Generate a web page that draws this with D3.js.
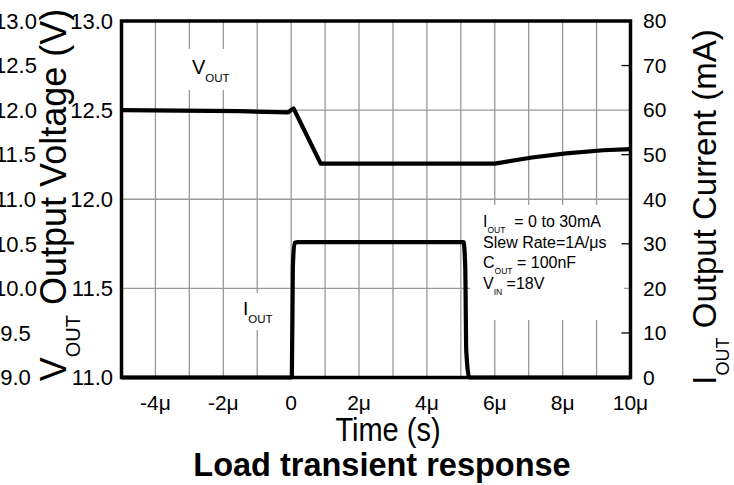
<!DOCTYPE html>
<html>
<head>
<meta charset="utf-8">
<script src="https://cdn.jsdelivr.net/npm/d3@7"></script>
<style>
  body { margin: 0; background: #fff; }
  text { font-family: 'Liberation Sans', Arial, sans-serif; fill: #000; }
</style>
</head>
<body>
<script>
// time axis in microseconds
let xTicks = [-4, -2, 0, 2, 4, 6, 8, 10]
let xTickLabels = ['-4\u03bc', '-2\u03bc', '0', '2\u03bc', '4\u03bc', '6\u03bc', '8\u03bc', '10\u03bc']
let vTicks = [11.0, 11.5, 12.0, 12.5, 13.0]
let vOuterTicks = [9.0, 9.5, 10.0, 10.5, 11.0, 11.5, 12.0, 12.5, 13.0]
let iTicks = [0, 10, 20, 30, 40, 50, 60, 70, 80]

// V_OUT trace (V)
let vTime = [-5, -1.5, -0.1, 0.07, 0.87, 6.0, 7.1, 8.1, 9.2, 10]
let vOut = [12.5, 12.494, 12.487, 12.51, 12.2, 12.2, 12.234, 12.257, 12.275, 12.281]

// I_OUT trace (mA)
let iTime = [-5, 0.02, 0.05, 0.1, 0.2, 5.08, 5.13, 5.16, 5.25, 10]
let iOut = [0, 0, 24.8, 30.2, 30.4, 30.4, 24.8, 6, 0, 0]

let width = 734
let height = 485
let pLeft = 121.5, pRight = 630.5, pTop = 21, pBottom = 377.5

let svg = d3.select('body').append('svg')
  .attr('width', width)
  .attr('height', height)

let x = d3.scaleLinear().domain([-5, 10]).range([pLeft, pRight])
let yV = d3.scaleLinear().domain([11, 13]).range([pBottom, pTop])
let yVouter = d3.scaleLinear().domain([9, 13]).range([pBottom, pTop])
let yI = d3.scaleLinear().domain([0, 80]).range([pBottom, pTop])

// grid
svg.append('g')
  .selectAll('line')
  .data(d3.range(-4, 10))
  .enter()
  .append('line')
  .attr('x1', d => x(d)).attr('x2', d => x(d))
  .attr('y1', pTop).attr('y2', pBottom)
  .attr('stroke', '#999').attr('stroke-width', 1.3)

svg.append('g')
  .selectAll('line')
  .data([11.5, 12.0, 12.5])
  .enter()
  .append('line')
  .attr('x1', pLeft).attr('x2', pRight)
  .attr('y1', d => yV(d)).attr('y2', d => yV(d))
  .attr('stroke', '#999').attr('stroke-width', 1.3)

// white patches behind the labels
svg.append('rect').attr('x', 186).attr('y', 49).attr('width', 44).attr('height', 41).attr('fill', '#fff')
svg.append('rect').attr('x', 240).attr('y', 293).attr('width', 36).attr('height', 37).attr('fill', '#fff')
svg.append('rect').attr('x', 470).attr('y', 205).attr('width', 154).attr('height', 115).attr('fill', '#fff')

// right axis inner ticks
svg.append('g')
  .selectAll('line')
  .data([10, 30, 50, 70])
  .enter()
  .append('line')
  .attr('x1', pRight - 9).attr('x2', pRight)
  .attr('y1', d => yI(d)).attr('y2', d => yI(d))
  .attr('stroke', '#000').attr('stroke-width', 1.3)

// traces
let vLine = d3.line()
  .x((d, i) => x(vTime[i]))
  .y(d => yV(d))
let iLine = d3.line()
  .x((d, i) => x(iTime[i]))
  .y(d => yI(d))
  .curve(d3.curveMonotoneX)

svg.append('path').attr('d', vLine(vOut))
  .attr('fill', 'none').attr('stroke', '#000').attr('stroke-width', 4.2)
  .attr('stroke-linejoin', 'round')
svg.append('path').attr('d', iLine(iOut))
  .attr('fill', 'none').attr('stroke', '#000').attr('stroke-width', 4.2)
  .attr('stroke-linejoin', 'round')

// frame
svg.append('rect')
  .attr('x', pLeft).attr('y', pTop)
  .attr('width', pRight - pLeft).attr('height', pBottom - pTop)
  .attr('fill', 'none').attr('stroke', '#000').attr('stroke-width', 3.5)

// tick labels
svg.append('g')
  .selectAll('text')
  .data(xTicks)
  .enter()
  .append('text')
  .attr('x', d => x(d)).attr('y', 409.5)
  .attr('text-anchor', 'middle').attr('font-size', 21)
  .text((d, i) => xTickLabels[i])

svg.append('g')
  .selectAll('text')
  .data(vTicks)
  .enter()
  .append('text')
  .attr('x', 113).attr('y', d => yV(d)).attr('dy', '0.35em')
  .attr('text-anchor', 'end').attr('font-size', 22)
  .text(d => d.toFixed(1))

svg.append('g')
  .selectAll('text')
  .data(vOuterTicks)
  .enter()
  .append('text')
  .attr('x', 15.5).attr('y', d => yVouter(d)).attr('dy', '0.35em')
  .attr('text-anchor', 'middle').attr('font-size', 22)
  .text(d => d.toFixed(1))

svg.append('g')
  .selectAll('text')
  .data(iTicks)
  .enter()
  .append('text')
  .attr('x', 643).attr('y', d => yI(d)).attr('dy', '0.35em')
  .attr('text-anchor', 'start').attr('font-size', 21)
  .text(d => d)

// text with a subscript
function subText (g, px, py, parts, size, subSize) {
  let t = g.append('text').attr('x', px).attr('y', py).attr('font-size', size)
  parts.forEach(function (p) {
    if (p.sub) {
      t.append('tspan').attr('font-size', subSize).attr('dy', subSize * 0.7).text(p.sub)
    } else {
      t.append('tspan').attr('dy', p.back ? -subSize * 0.7 : 0).text(p.txt)
    }
  })
  return t
}

subText(svg, 192, 74, [{ txt: 'V' }, { sub: 'OUT' }], 20, 11.5)
subText(svg, 243, 315, [{ txt: 'I' }, { sub: 'OUT' }], 19, 11.5)

subText(svg, 483, 227, [{ txt: 'I' }, { sub: 'OUT' }, { txt: '  = 0 to 30mA', back: true }], 16, 8.5)
  .attr('xml:space', 'preserve')
svg.append('text').attr('x', 483).attr('y', 247.5).attr('font-size', 16).text('Slew Rate=1A/\u03bcs')
subText(svg, 483, 268, [{ txt: 'C' }, { sub: 'OUT' }, { txt: ' = 100nF', back: true }], 16, 8.5)
subText(svg, 483, 289, [{ txt: 'V' }, { sub: 'IN' }, { txt: ' =18V', back: true }], 16, 8.5)

// axis titles (slightly stretched vertically, as in the reference)
svg.append('g').attr('transform', 'translate(388,441) scale(1,1.15)')
  .append('text')
  .attr('text-anchor', 'middle').attr('font-size', 29).text('Time (s)')
svg.append('g').attr('transform', 'translate(382,476) scale(1,1.03)')
  .append('text')
  .attr('text-anchor', 'middle').attr('font-size', 32.5).attr('font-weight', 'bold')
  .text('Load transient response')

let lt = subText(svg.append('g').attr('transform', 'translate(66,195) rotate(-90)'), 0, 0,
  [{ txt: 'V' }, { sub: 'OUT' }, { txt: ' Output Voltage (V)', back: true }], 36, 20)
lt.attr('text-anchor', 'middle')

let rt = subText(svg.append('g').attr('transform', 'translate(716,207) rotate(-90)'), 0, 0,
  [{ txt: 'I' }, { sub: 'OUT' }, { txt: ' Output Current (mA)', back: true }], 33, 18)
rt.attr('text-anchor', 'middle')
</script>
</body>
</html>
